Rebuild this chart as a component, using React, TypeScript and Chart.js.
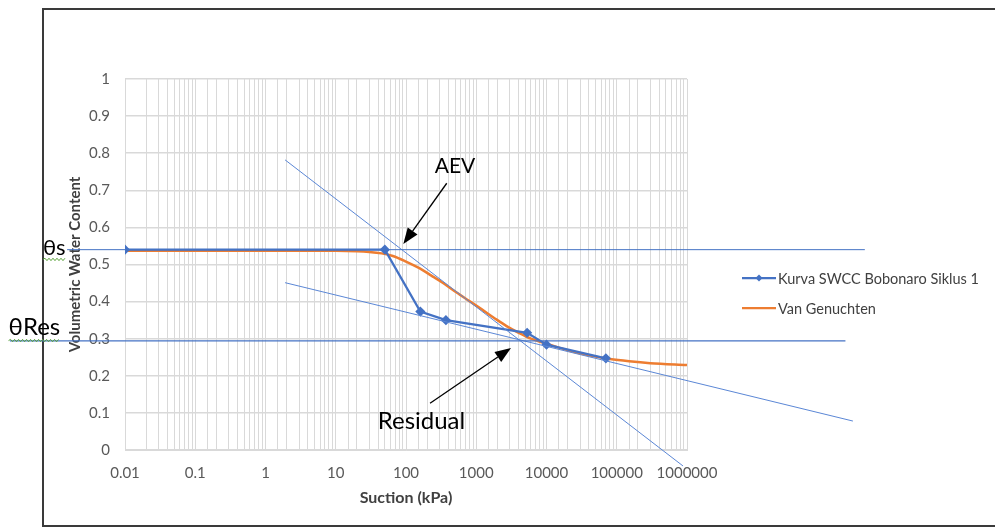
import React, { useEffect, useRef } from 'react';
import { Chart, registerables } from 'chart.js';

Chart.register(...registerables);

// ---- data ----
const swccSuction = [0.01, 50, 160, 370, 5300, 10000, 70000];
const swccTheta = [0.54, 0.54, 0.373, 0.35, 0.316, 0.284, 0.247];

const vgSuction = [0.01, 0.1, 1, 10, 20, 30, 45, 65, 100, 155, 230, 350, 520, 790, 1200, 1800, 2700, 4100, 6000, 9000, 15000, 25000, 45000, 80000, 150000, 300000, 1000000];
const vgTheta = [0.537, 0.537, 0.537, 0.537, 0.536, 0.534, 0.530, 0.523, 0.508, 0.490, 0.470, 0.448, 0.425, 0.402, 0.379, 0.356, 0.334, 0.315, 0.300, 0.289, 0.276, 0.264, 0.253, 0.245, 0.239, 0.234, 0.229];

// guide lines (drawn by hand in the original)
const thetaSLineX = [0.0015, 3.4e8];
const thetaSLineY = [0.54, 0.54];
const thetaResLineX = [0.00023, 1.8e8];
const thetaResLineY = [0.294, 0.294];
const steepLineX = [1.9, 877000];
const steepLineY = [0.782, -0.043];
const residualLineX = [1.9, 2.3e8];
const residualLineY = [0.451, 0.078];

// annotations [suction, theta]
const aevArrowFrom = [380, 0.719];
const aevArrowTo = [91.6, 0.555];
const resArrowFrom = [220, 0.126];
const resArrowTo = [3126, 0.275];
const aevLabelAt = [498, 0.764];
const resLabelAt = [166, 0.078];
const thetaSLabelAt = [0.00068, 0.546];
const thetaResLabelAt = [0.00022, 0.33];

const xTickValues = [0.01, 0.1, 1, 10, 100, 1000, 10000, 100000, 1000000];
const yTickStep = 0.1;

const seriesNames = ['Kurva SWCC Bobonaro Siklus 1', 'Van Genuchten'];

const BLUE = '#4472C4';
const ORANGE = '#ED7D31';
const GUIDE = '#5B87D6';
const FONT = "Lato, 'Noto Sans', sans-serif";

const toPts = (xs: number[], ys: number[]) => xs.map((x, i) => ({ x, y: ys[i] }));

function fmtX(value: any) {
  const v = Number(value);
  const hit = xTickValues.find((t) => Math.abs(Math.log10(v) - Math.log10(t)) < 1e-6);
  if (hit === undefined) return '';
  const e = Math.round(Math.log10(hit));
  return e < 0 ? hit.toFixed(-e) : String(Math.round(hit));
}

function drawArrow(ctx: CanvasRenderingContext2D, x1: number, y1: number, x2: number, y2: number) {
  const ang = Math.atan2(y2 - y1, x2 - x1);
  const len = 16;
  const half = 6;
  const bx = x2 - len * Math.cos(ang);
  const by = y2 - len * Math.sin(ang);
  ctx.save();
  ctx.strokeStyle = '#000';
  ctx.fillStyle = '#000';
  ctx.lineWidth = 1.3;
  ctx.beginPath();
  ctx.moveTo(x1, y1);
  ctx.lineTo(bx, by);
  ctx.stroke();
  ctx.beginPath();
  ctx.moveTo(x2, y2);
  ctx.lineTo(bx + half * Math.sin(ang), by - half * Math.cos(ang));
  ctx.lineTo(bx - half * Math.sin(ang), by + half * Math.cos(ang));
  ctx.closePath();
  ctx.fill();
  ctx.restore();
}

function squiggle(ctx: CanvasRenderingContext2D, x1: number, x2: number, y: number) {
  ctx.save();
  ctx.strokeStyle = '#5BA33B';
  ctx.lineWidth = 1;
  ctx.beginPath();
  let up = true;
  ctx.moveTo(x1, y);
  for (let x = x1 + 2; x <= x2; x += 2) {
    ctx.lineTo(x, up ? y - 1.2 : y + 1.2);
    up = !up;
  }
  ctx.stroke();
  ctx.restore();
}

const decorPlugin = {
  id: 'decor',
  beforeDraw(chart: any) {
    const ctx = chart.ctx as CanvasRenderingContext2D;
    ctx.save();
    ctx.fillStyle = '#fff';
    ctx.fillRect(0, 0, chart.width, chart.height);
    ctx.strokeStyle = '#3a3a3a';
    ctx.lineWidth = 2;
    ctx.beginPath();
    ctx.moveTo(chart.width + 5, 9);
    ctx.lineTo(43, 9);
    ctx.lineTo(43, 526);
    ctx.lineTo(chart.width + 5, 526);
    ctx.stroke();
    ctx.restore();
  },
  afterDatasetsDraw(chart: any) {
    const ctx = chart.ctx as CanvasRenderingContext2D;
    const xs = chart.scales.x;
    const ys = chart.scales.y;
    const px = (p: number[]) => [xs.getPixelForValue(p[0]), ys.getPixelForValue(p[1])];

    const a1 = px(aevArrowFrom), a2 = px(aevArrowTo);
    drawArrow(ctx, a1[0], a1[1], a2[0], a2[1]);
    const r1 = px(resArrowFrom), r2 = px(resArrowTo);
    drawArrow(ctx, r1[0], r1[1], r2[0], r2[1]);

    ctx.save();
    ctx.fillStyle = '#000';
    ctx.textBaseline = 'middle';
    ctx.textAlign = 'center';
    ctx.font = `21px ${FONT}`;
    const al = px(aevLabelAt);
    ctx.fillText('AEV', al[0], al[1]);
    ctx.font = `24px ${FONT}`;
    const rl = px(resLabelAt);
    ctx.fillText('Residual', rl[0], rl[1]);

    ctx.textAlign = 'left';
    ctx.font = `22px ${FONT}`;
    const tl = px(thetaSLabelAt);
    ctx.fillText('θs', tl[0], tl[1]);
    const w1 = ctx.measureText('θs').width;
    squiggle(ctx, tl[0], tl[0] + w1, tl[1] + 12);
    ctx.font = `24px ${FONT}`;
    const tr = px(thetaResLabelAt);
    ctx.fillText('θRes', tr[0], tr[1]);
    const w2 = ctx.measureText('θRes').width;
    squiggle(ctx, tr[0], tr[0] + w2, tr[1] + 13);

    // legend
    const lx = 742, lw = 34;
    const ly = [278, 308];
    const colors = [BLUE, ORANGE];
    ctx.font = `14.5px ${FONT}`;
    ctx.fillStyle = '#404040';
    seriesNames.forEach((name, i) => {
      ctx.strokeStyle = colors[i];
      ctx.lineWidth = 2.25;
      ctx.beginPath();
      ctx.moveTo(lx, ly[i]);
      ctx.lineTo(lx + lw, ly[i]);
      ctx.stroke();
      if (i === 0) {
        ctx.fillStyle = BLUE;
        const cx = lx + lw / 2, cy = ly[i], s = 3.5;
        ctx.beginPath();
        ctx.moveTo(cx, cy - s);
        ctx.lineTo(cx + s, cy);
        ctx.lineTo(cx, cy + s);
        ctx.lineTo(cx - s, cy);
        ctx.closePath();
        ctx.fill();
        ctx.fillStyle = '#404040';
      }
      ctx.fillText(name, lx + lw + 2, ly[i] + 1);
    });
    ctx.restore();
  },
};

export default function App() {
  const ref = useRef<HTMLCanvasElement | null>(null);
  useEffect(() => {
    if (!ref.current) return;
    Chart.defaults.font.family = FONT;
    const guide = (xsA: number[], ysA: number[], w: number, color: string) => ({
      data: toPts(xsA, ysA),
      showLine: true,
      borderColor: color,
      backgroundColor: color,
      borderWidth: w,
      pointRadius: 0,
      clip: false as any,
      order: 0,
    });
    const chart = new Chart(ref.current, {
      type: 'scatter',
      data: {
        datasets: [
          guide(thetaSLineX, thetaSLineY, 1, BLUE),
          guide(thetaResLineX, thetaResLineY, 1.3, BLUE),
          guide(steepLineX, steepLineY, 1, GUIDE),
          guide(residualLineX, residualLineY, 1, GUIDE),
          {
            label: seriesNames[1],
            data: toPts(vgSuction, vgTheta),
            showLine: true,
            borderColor: ORANGE,
            backgroundColor: ORANGE,
            borderWidth: 2.5,
            pointRadius: 0,
            cubicInterpolationMode: 'monotone',
            order: 2,
          },
          {
            label: seriesNames[0],
            data: toPts(swccSuction, swccTheta),
            showLine: true,
            borderColor: BLUE,
            backgroundColor: BLUE,
            borderWidth: 2.25,
            pointStyle: 'rectRot',
            pointRadius: 3.5,
            order: 1,
          },
        ],
      },
      options: {
        responsive: false,
        animation: false,
        events: [],
        layout: { padding: { left: 65, right: 308, top: 79, bottom: 21 } },
        plugins: { legend: { display: false }, tooltip: { enabled: false } },
        scales: {
          x: {
            type: 'logarithmic',
            min: 0.01,
            max: 1000000,
            afterFit: (s: any) => { s.height = 57; },
            grid: { color: '#d9d9d9', lineWidth: 1, drawTicks: false },
            border: { color: '#d9d9d9' },
            ticks: { autoSkip: false, maxRotation: 0, minRotation: 0, padding: 14, color: '#595959', font: { size: 15 }, callback: fmtX },
            title: { display: true, text: 'Suction (kPa)', color: '#404040', font: { size: 16, weight: 'bold' }, padding: 0 },
          },
          y: {
            type: 'linear',
            min: 0,
            max: 1,
            afterFit: (s: any) => { s.width = 60; },
            grid: { color: '#d9d9d9', lineWidth: 1.5, drawTicks: false },
            border: { display: false },
            ticks: { stepSize: yTickStep, padding: 15, color: '#595959', font: { size: 15 }, callback: (v: any) => String(Math.round(Number(v) * 10) / 10) },
            title: { display: true, text: 'Volumetric Water Content', color: '#404040', font: { size: 15, weight: 'bold' }, padding: { top: 1, bottom: 0 } },
          },
        },
      },
      plugins: [decorPlugin],
    } as any);
    return () => chart.destroy();
  }, []);
  return (
    <div style={{ position: 'absolute', left: 0, top: 0, width: 995, height: 528 }}>
      <canvas ref={ref} width={995} height={528} style={{ display: 'block' }} />
    </div>
  );
}
